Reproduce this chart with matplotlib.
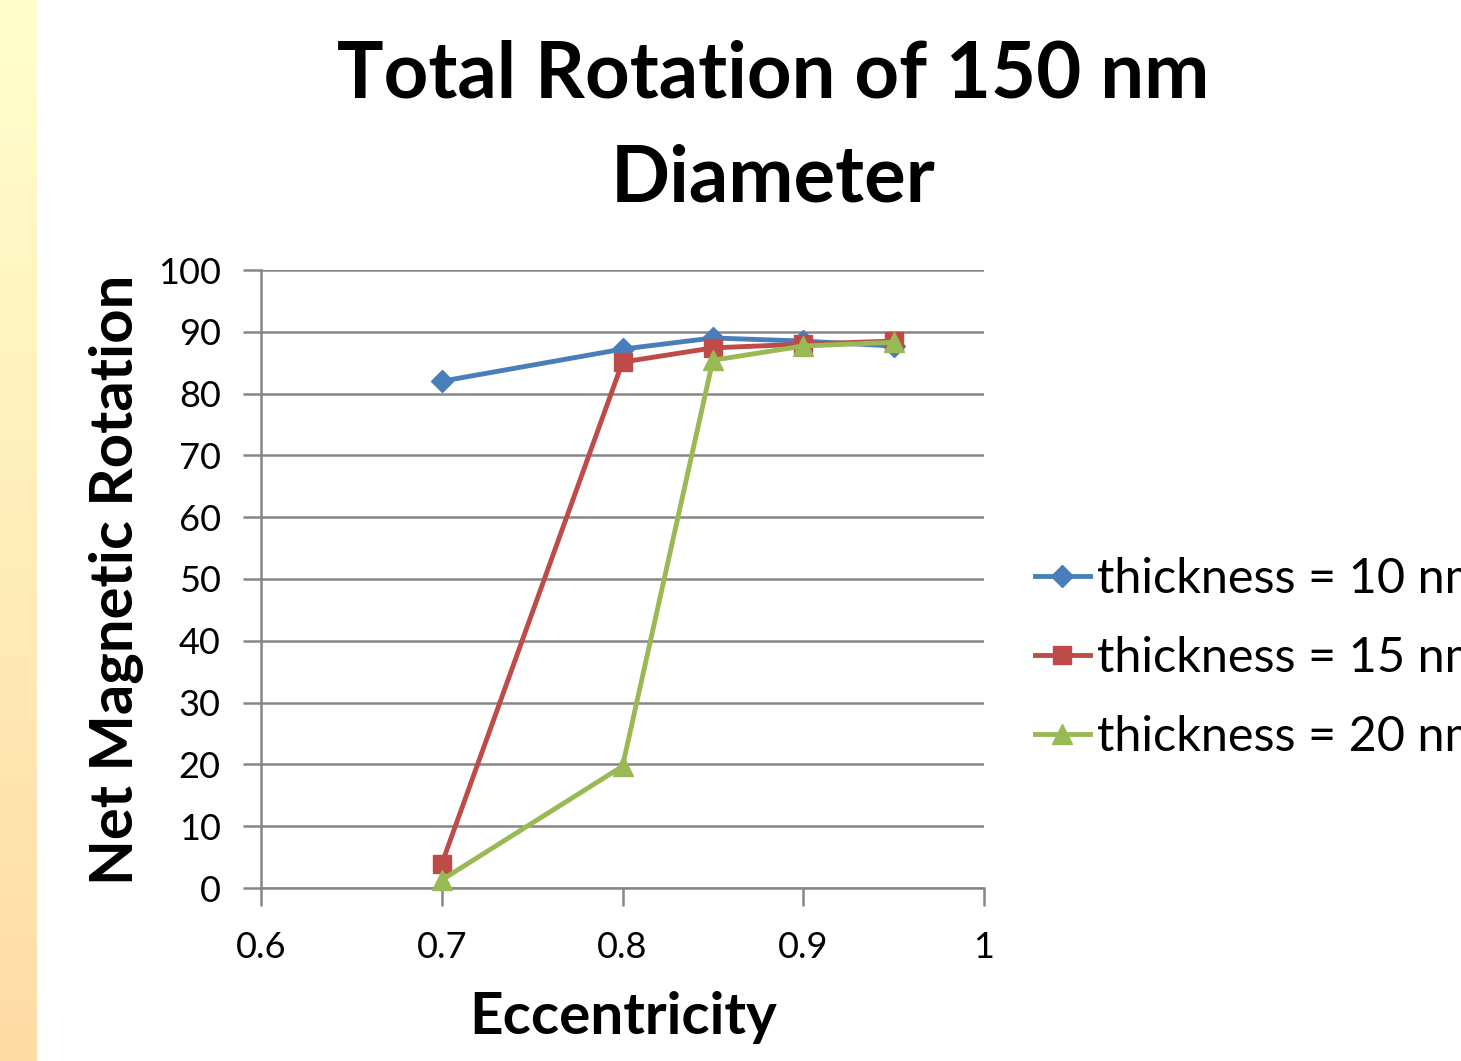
import matplotlib
matplotlib.use("Agg")
import matplotlib.pyplot as plt
import numpy as np

eccentricity = [0.7, 0.8, 0.85, 0.9, 0.95]
t10 = [82.0, 87.2, 89.0, 88.5, 87.7]
t15 = [3.9, 85.1, 87.4, 88.0, 88.5]
t20 = [1.3, 19.7, 85.4, 87.7, 88.3]
labels = ["thickness = 10 nm", "thickness = 15 nm", "thickness = 20 nm"]
xticks = [0.6, 0.7, 0.8, 0.9, 1.0]
xticklabels = ["0.6", "0.7", "0.8", "0.9", "1"]
yticks = list(range(0, 101, 10))

plt.rcParams['font.family'] = ['Lato', 'DejaVu Sans']

W, H = 1461, 1061
fig = plt.figure(figsize=(W / 100, H / 100), dpi=100)

# left gradient strip
bg = fig.add_axes([0, 0, 37 / W, 1])
grad = np.linspace(0, 1, 256).reshape(-1, 1)
top = np.array([1.0, 1.0, 0.80])
bot = np.array([1.0, 0.86, 0.65])
img = top[None, None, :] * (1 - grad[:, :, None]) + bot[None, None, :] * grad[:, :, None]
bg.imshow(img, aspect='auto', extent=[0, 1, 0, 1])
bg.axis('off')

ax = fig.add_axes([261 / W, 1 - 888 / H, (984 - 261) / W, (888 - 270) / H])
ax.plot(eccentricity, t10, color='#4A7EBB', lw=3.5, marker='D', ms=11, label=labels[0], clip_on=False, zorder=3)
ax.plot(eccentricity, t15, color='#BE4B48', lw=3.5, marker='s', ms=13, label=labels[1], clip_on=False, zorder=3)
ax.plot(eccentricity, t20, color='#98B954', lw=3.5, marker='^', ms=14, label=labels[2], clip_on=False, zorder=3)

ax.set_xlim(0.6, 1.0)
ax.set_ylim(0, 100)
ax.set_xticks(xticks)
ax.set_xticklabels(xticklabels)
ax.set_yticks(yticks)
ax.grid(axis='y', color='#868686', lw=1.8)
ax.set_axisbelow(True)
for s in ['top', 'right']:
    ax.spines[s].set_visible(False)
for s in ['left', 'bottom']:
    ax.spines[s].set_color('#868686')
    ax.spines[s].set_linewidth(1.8)
ax.tick_params(axis='both', labelsize=26, color='#868686', width=1.8, length=13)
ax.tick_params(axis='x', pad=18)
ax.tick_params(axis='y', pad=16)

fig.text(623 / W, 1 - 1018 / H, "Eccentricity", ha='center', va='center', fontsize=42, fontweight='bold')
fig.text(117 / W, 1 - 580 / H, "Net Magnetic Rotation", ha='center', va='center', rotation=90,
         fontsize=43, fontweight='bold')

fig.text(773 / W, 1 - 75 / H, "Total Rotation of 150 nm", ha='center', va='center', fontsize=56, fontweight='bold')
fig.text(773 / W, 1 - 180 / H, "Diameter", ha='center', va='center', fontsize=56, fontweight='bold')

leg = fig.legend(loc='center left', bbox_to_anchor=(1035 / W, 1 - 658 / H), frameon=False,
                 fontsize=35, handlelength=1.13, handletextpad=0.15, labelspacing=0.72, borderpad=0,
                 borderaxespad=0)

fig.savefig("out.png", dpi=100)
